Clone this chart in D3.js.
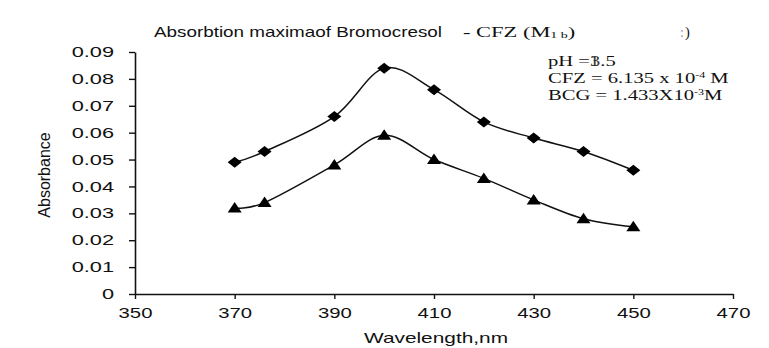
<!DOCTYPE html>
<html><head><meta charset="utf-8">
<script src="https://cdn.jsdelivr.net/npm/d3@7"></script>
<style>body{margin:0;background:#fff}svg{display:block}</style>
</head><body>
<script>
const wavelengths = [370, 376, 390, 400, 410, 420, 430, 440, 450];
const seriesDiamond = [0.049, 0.053, 0.066, 0.084, 0.076, 0.064, 0.058, 0.053, 0.046];
const seriesTriangle = [0.032, 0.034, 0.048, 0.059, 0.050, 0.043, 0.035, 0.028, 0.025];
const xTicks = [350, 370, 390, 410, 430, 450, 470];
const yTicks = [0, 0.01, 0.02, 0.03, 0.04, 0.05, 0.06, 0.07, 0.08, 0.09];

const W = 769, H = 348;
const svg = d3.select("body").append("svg").attr("width", W).attr("height", H);
const x = d3.scaleLinear().domain([350, 470]).range([135, 733]);
const y = d3.scaleLinear().domain([0, 0.09]).range([294, 52]);
const sans = "'Liberation Sans', Arial, sans-serif";
const serif = "'Liberation Serif', 'Times New Roman', serif";

// horizontal stretch helper (reference image is widened)
function stretch(sel, k) {
  sel.each(function () {
    const L = this.getComputedTextLength();
    d3.select(this).attr("textLength", L * k).attr("lengthAdjust", "spacingAndGlyphs");
  });
}
function stretchTo(sel, w) {
  sel.attr("textLength", w).attr("lengthAdjust", "spacingAndGlyphs");
}

// axes
const xAxis = svg.append("g").attr("transform", `translate(0,${y(0)})`)
  .call(d3.axisBottom(x).tickValues(xTicks).tickSize(5).tickPadding(9).tickSizeOuter(0).tickFormat(d3.format("d")));
const yAxis = svg.append("g").attr("transform", `translate(${x(350)},0)`)
  .call(d3.axisLeft(y).tickValues(yTicks).tickSize(6).tickPadding(15).tickSizeOuter(0)
    .tickFormat(d => d === 0 ? "0" : d3.format(".2f")(d)));
[xAxis, yAxis].forEach(g => {
  g.select(".domain").attr("stroke", "#111").attr("stroke-width", 1.6);
  g.selectAll(".tick line").attr("stroke", "#111").attr("stroke-width", 1.4);
  g.selectAll(".tick text").attr("fill", "#111").style("font-family", sans).style("font-size", "14.5px");
});
xAxis.selectAll(".tick text").attr("dy", "0.71em");
stretch(yAxis.selectAll(".tick text"), 1.5);
stretch(xAxis.selectAll(".tick text"), 1.4);

const line = d3.line().x(d => x(d[0])).y(d => y(d[1])).curve(d3.curveCatmullRom.alpha(0));
const dDiamond = wavelengths.map((w, i) => [w, seriesDiamond[i]]);
const dTri = wavelengths.map((w, i) => [w, seriesTriangle[i]]);
[dDiamond, dTri].forEach(d => {
  svg.append("path").attr("d", line(d)).attr("fill", "none").attr("stroke", "#111").attr("stroke-width", 1.5);
});
svg.append("g").selectAll("path").data(dDiamond).join("path")
  .attr("transform", d => `translate(${x(d[0])},${y(d[1])})`)
  .attr("d", "M0,-5.5L7,0L0,5.5L-7,0Z").attr("fill", "#000");
svg.append("g").selectAll("path").data(dTri).join("path")
  .attr("transform", d => `translate(${x(d[0])},${y(d[1])})`)
  .attr("d", "M0,-6L7,4.5L-7,4.5Z").attr("fill", "#000");

// title
const t1 = svg.append("text").attr("x", 154).attr("y", 37).style("font-family", sans).style("font-size", "15px")
  .attr("fill", "#111").text("Absorbtion maximaof Bromocresol");
stretchTo(t1, 288);
const tg = svg.append("g").attr("transform", "translate(463,0) scale(1.55,1) translate(-463,0)");
const t2 = tg.append("text").attr("x", 463).attr("y", 37).style("font-family", serif).style("font-size", "14.5px").attr("fill", "#111");
t2.append("tspan").text("- CFZ (M");
t2.append("tspan").style("font-size", "9px").attr("dy", 1).text("1 b");
t2.append("tspan").attr("dy", -1).text(")");
svg.append("text").attr("x", 680).attr("y", 37).style("font-family", serif).style("font-size", "14px").attr("fill", "#999").text(":");
svg.append("text").attr("x", 685).attr("y", 37).style("font-family", serif).style("font-size", "14.5px").attr("fill", "#111").text(")");

// annotation
const ann = svg.append("g").attr("transform", "translate(548,0) scale(1.33,1) translate(-548,0)")
  .style("font-family", serif).style("font-size", "15.5px").attr("fill", "#111");
const a1 = ann.append("text").attr("x", 548).attr("y", 66);
a1.append("tspan").text("pH =");
a1.append("tspan").attr("fill-opacity", 0.85).text("3");
a1.append("tspan").text(".5");
ann.append("text").attr("x", 579).attr("y", 66).attr("fill-opacity", 0.85).text("1");
const a2 = ann.append("text").attr("x", 548).attr("y", 83);
a2.append("tspan").text("CFZ = 6.135 x 10");
a2.append("tspan").attr("dy", -5).style("font-size", "9px").text("-4");
a2.append("tspan").attr("dy", 5).text(" M");
const a3 = ann.append("text").attr("x", 548).attr("y", 100);
a3.append("tspan").text("BCG = 1.433X10");
a3.append("tspan").attr("dy", -5).style("font-size", "9px").text("-3");
a3.append("tspan").attr("dy", 5).text("M");

// axis titles
svg.append("text").attr("transform", "translate(50,175) rotate(-90)").attr("text-anchor", "middle")
  .style("font-family", "'Liberation Sans Narrow', 'Liberation Sans', Arial, sans-serif").style("font-size", "16px")
  .attr("fill", "#111").text("Absorbance");
const xl = svg.append("text").attr("x", 436).attr("y", 343).attr("text-anchor", "middle")
  .style("font-family", sans).style("font-size", "15px").attr("fill", "#111").text("Wavelength,nm");
stretchTo(xl, 144);
</script>
</body></html>
